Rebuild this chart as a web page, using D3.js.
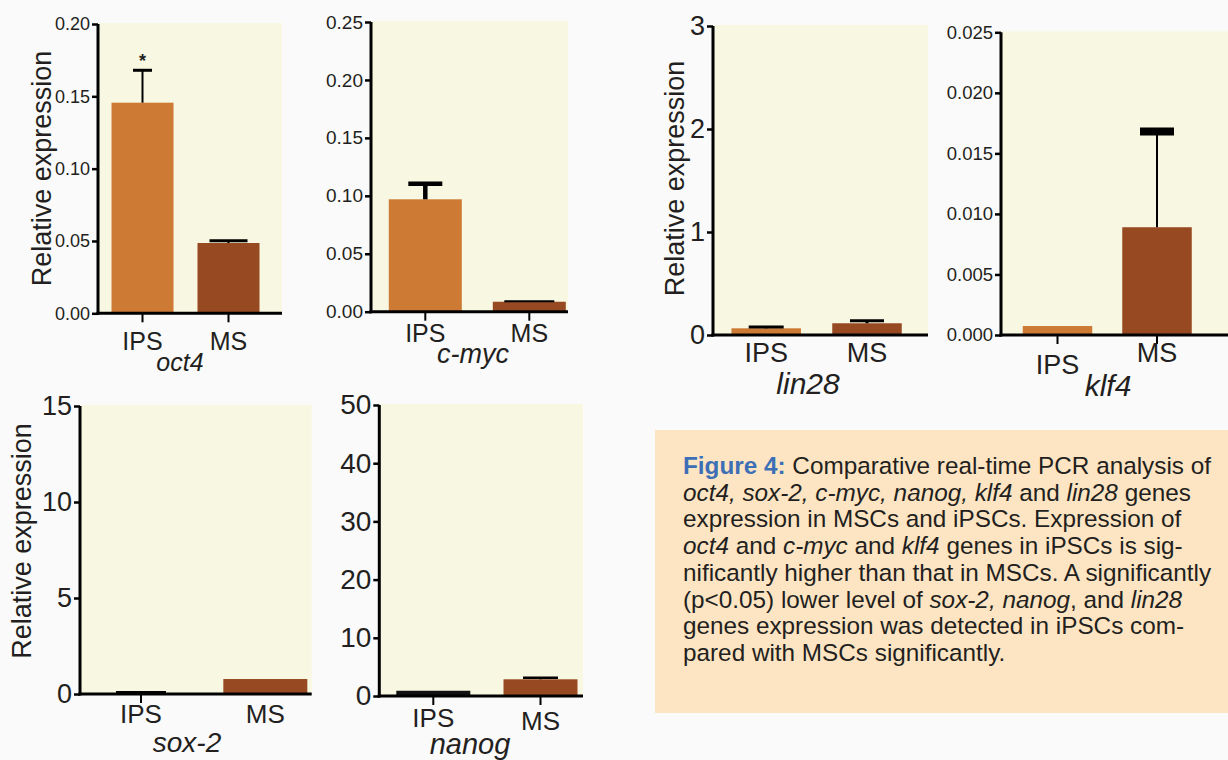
<!DOCTYPE html>
<html>
<head>
<meta charset="utf-8">
<script src="https://cdn.jsdelivr.net/npm/d3@7"></script>
<style>
  html, body { margin: 0; padding: 0; background: #fafafa; }
  svg { display: block; font-family: "Liberation Sans", Arial, sans-serif; }
</style>
</head>
<body>
<svg id="chart" width="1228" height="760"></svg>
<script>
// ---------------- data ----------------
const genes = ["oct4", "c-myc", "lin28", "klf4", "sox-2", "nanog"];
const categories = ["IPS", "MS"];
const ipsValues = [0.1456, 0.097, 0.065, 0.00074, 0.02, 0.9];
const ipsErrors = [0.0224, 0.0135, 0.013, 0, 0.05, 0];
const msValues  = [0.0486, 0.0086, 0.114, 0.0089, 0.78, 2.87];
const msErrors  = [0.0016, 0.0004, 0.024, 0.0079, 0, 0.27];
const yMaxes    = [0.20, 0.25, 3, 0.025, 15, 50];
const oct4Ticks  = [0, 0.05, 0.10, 0.15, 0.20];
const cmycTicks  = [0, 0.05, 0.10, 0.15, 0.20, 0.25];
const lin28Ticks = [0, 1, 2, 3];
const klf4Ticks  = [0, 0.005, 0.010, 0.015, 0.020, 0.025];
const sox2Ticks  = [0, 5, 10, 15];
const nanogTicks = [0, 10, 20, 30, 40, 50];
const tickSets = [oct4Ticks, cmycTicks, lin28Ticks, klf4Ticks, sox2Ticks, nanogTicks];
const significance = ["*", "", "", "", "", ""];
const yTitle = "Relative expression";

// ---------------- layout / style ----------------
const layout = [
  {axisX: 98, right: 282, top: 24, bottom: 313.3, band: [99.5, 271.5], bw: 62, fmt: ".2f",
   tickFont: 18, xFont: 25, geneFont: 25, xLabelY: [350, 350], geneX: 180, geneY: 371,
   title: {x: 51, y: 168.5, size: 27}, xTicks: [true, true], errW: [2, 2], capW: [3, 3], capLen: [19, 38]},
  {axisX: 371, right: 568, top: 22, bottom: 311.7, band: [373.3, 581.3], bw: 73, fmt: ".2f",
   tickFont: 19, xFont: 25, geneFont: 27, xLabelY: [342, 342], geneX: 473, geneY: 363,
   title: null, xTicks: [true, true], errW: [4.5, 2], capW: [4.5, 2], capLen: [34, 50]},
  {axisX: 713, right: 928, top: 26, bottom: 335, band: [715.8, 917.4], bw: 69.5, fmt: "d",
   tickFont: 27, xFont: 27, geneFont: 30, xLabelY: [362, 362], geneX: 808, geneY: 394,
   title: {x: 684, y: 178.5, size: 27}, xTicks: [false, false], errW: [3, 3], capW: [3, 3], capLen: [35, 34]},
  {axisX: 1001, right: 1228, top: 32.3, bottom: 335, band: [1007.75, 1206.75], bw: 69.5, fmt: ".3f",
   tickFont: 18.5, xFont: 27, geneFont: 30, xLabelY: [374, 362], geneX: 1108, geneY: 396,
   title: null, xTicks: [true, true], errW: [2, 2], capW: [8, 8], capLen: [0, 34]},
  {axisX: 80, right: 311.7, top: 406, bottom: 694, band: [78.8, 327.5], bw: 84, fmt: "d",
   tickFont: 27, xFont: 26, geneFont: 28, xLabelY: [723, 723], geneX: 187, geneY: 752,
   title: {x: 31, y: 541, size: 27}, xTicks: [true, false], errW: [3, 0], capW: [3.5, 0], capLen: [50, 0]},
  {axisX: 379.3, right: 583, top: 405, bottom: 696, band: [379.7, 594.1], bw: 74, fmt: "d",
   tickFont: 28, xFont: 26, geneFont: 29, xLabelY: [727, 730], geneX: 470, geneY: 754,
   title: null, xTicks: [true, true], errW: [2.5, 2.5], capW: [0, 2.5], capLen: [0, 35], ipsBlack: true}
];

const COL = {ips: "#cd7a35", ms: "#974a22", plotBg: "#f8f7e1", text: "#231f20"};

const svg = d3.select("#chart");

genes.forEach((gene, i) => {
  const L = layout[i];
  const g = svg.append("g");
  const y = d3.scaleLinear().domain([0, yMaxes[i]]).range([L.bottom, L.top]);
  const step = (L.band[1] - L.band[0]) / categories.length;
  const pin = 1 - L.bw / step;
  const x = d3.scaleBand().domain(categories).range(L.band).paddingInner(pin).paddingOuter(pin / 2);

  // plot background
  g.append("rect")
    .attr("x", L.axisX).attr("y", y(yMaxes[i]) - 1)
    .attr("width", L.right - L.axisX).attr("height", L.bottom - y(yMaxes[i]) + 1)
    .attr("fill", COL.plotBg);

  const rows = categories.map((c, k) => ({
    cat: c,
    v: k === 0 ? ipsValues[i] : msValues[i],
    e: k === 0 ? ipsErrors[i] : msErrors[i],
    k: k
  }));

  // bars
  g.selectAll("rect.bar").data(rows).enter().append("rect")
    .attr("class", "bar")
    .attr("x", d => x(d.cat))
    .attr("width", x.bandwidth())
    .attr("y", d => y(d.v))
    .attr("height", d => L.bottom - y(d.v))
    .attr("fill", d => (d.k === 0 ? (L.ipsBlack ? "#111" : COL.ips) : COL.ms));

  // error bars
  rows.forEach(d => {
    const cx = x(d.cat) + x.bandwidth() / 2;
    const yt = y(d.v + d.e);
    if (d.e > 0 && L.errW[d.k] > 0) {
      g.append("line").attr("x1", cx).attr("x2", cx)
        .attr("y1", y(d.v)).attr("y2", yt)
        .attr("stroke", "#000").attr("stroke-width", L.errW[d.k]);
    }
    if (L.capLen[d.k] > 0) {
      g.append("line")
        .attr("x1", cx - L.capLen[d.k] / 2).attr("x2", cx + L.capLen[d.k] / 2)
        .attr("y1", yt).attr("y2", yt)
        .attr("stroke", "#000").attr("stroke-width", L.capW[d.k]);
    }
    if (d.k === 0 && significance[i]) {
      g.append("text").attr("x", cx).attr("y", yt - 3)
        .attr("text-anchor", "middle").attr("font-size", 18).attr("font-weight", "bold")
        .attr("fill", COL.text).text(significance[i]);
    }
  });

  // y axis
  const yAxis = d3.axisLeft(y).tickValues(tickSets[i])
    .tickFormat(d3.format(L.fmt)).tickSize(6).tickSizeOuter(0).tickPadding(2);
  const ya = g.append("g").attr("transform", `translate(${L.axisX},0)`).call(yAxis);
  ya.select(".domain").attr("stroke", "#000").attr("stroke-width", 3)
    .attr("d", `M0,${L.bottom + 1.5}V${y(yMaxes[i])}`);
  ya.selectAll(".tick line").attr("stroke", "#000").attr("stroke-width", 2.5);
  ya.selectAll(".tick text").attr("font-size", L.tickFont).attr("fill", COL.text)
    .attr("font-family", "Liberation Sans, Arial, sans-serif");

  // x axis
  const xAxis = d3.axisBottom(x).tickSize(9).tickSizeOuter(0).tickPadding(4);
  const xa = g.append("g").attr("transform", `translate(0,${L.bottom})`).call(xAxis);
  xa.select(".domain").remove();
  xa.selectAll(".tick line").attr("stroke", "#000").attr("stroke-width", 2)
    .attr("opacity", (d, k) => L.xTicks[k] ? 1 : 0);
  xa.selectAll(".tick text")
    .attr("font-size", L.xFont).attr("fill", COL.text)
    .attr("font-family", "Liberation Sans, Arial, sans-serif")
    .attr("dy", null)
    .attr("y", (d, k) => L.xLabelY[k] - L.bottom);
  g.append("line").attr("x1", L.axisX - 1.5).attr("x2", L.right)
    .attr("y1", L.bottom).attr("y2", L.bottom)
    .attr("stroke", "#000").attr("stroke-width", 3);

  // gene label
  g.append("text").attr("x", L.geneX).attr("y", L.geneY)
    .attr("text-anchor", "middle").attr("font-style", "italic")
    .attr("font-size", L.geneFont).attr("fill", COL.text).text(gene);

  // y title
  if (L.title) {
    g.append("text")
      .attr("transform", `translate(${L.title.x},${L.title.y}) rotate(-90)`)
      .attr("text-anchor", "middle").attr("font-size", L.title.size)
      .attr("fill", COL.text).text(yTitle);
  }
});

// ---------------- caption ----------------
const captionLines = [
  [["Figure 4:", "fig"], [" Comparative real-time PCR analysis of", "n"]],
  [["oct4, sox-2, c-myc, nanog, klf4", "i"], [" and ", "n"], ["lin28", "i"], [" genes", "n"]],
  [["expression in MSCs and iPSCs. Expression of", "n"]],
  [["oct4", "i"], [" and ", "n"], ["c-myc", "i"], [" and ", "n"], ["klf4", "i"], [" genes in iPSCs is sig-", "n"]],
  [["nificantly higher than that in MSCs. A significantly", "n"]],
  [["(p<0.05) lower level of ", "n"], ["sox-2, nanog", "i"], [", and ", "n"], ["lin28", "i"]],
  [["genes expression was detected in iPSCs com-", "n"]],
  [["pared with MSCs significantly.", "n"]]
];
svg.append("rect").attr("x", 655).attr("y", 430).attr("width", 573).attr("height", 283)
  .attr("fill", "#fde5c3");
const cap = svg.append("text").attr("font-size", 24.3).attr("fill", COL.text);
captionLines.forEach((line, li) => {
  line.forEach((seg, si) => {
    const t = cap.append("tspan").text(seg[0]);
    if (si === 0) t.attr("x", 683).attr("y", 474 + li * 26.7);
    if (seg[1] === "i") t.attr("font-style", "italic");
    if (seg[1] === "fig") t.attr("font-weight", "bold").attr("fill", "#3d6fb6");
  });
});
</script>
</body>
</html>
